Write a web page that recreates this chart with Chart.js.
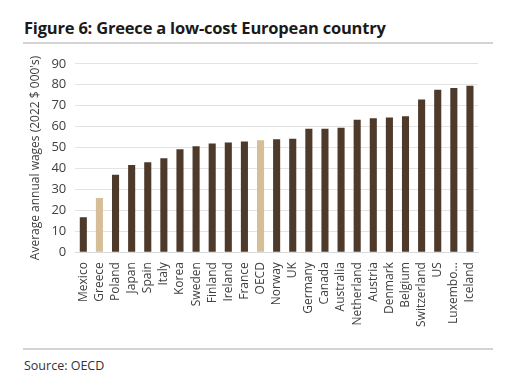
<!DOCTYPE html>
<html>
<head>
<meta charset="utf-8">
<script src="https://cdn.jsdelivr.net/npm/chart.js@4"></script>
<style>
  body { margin: 0; background: #fff; width: 516px; height: 389px; position: relative; overflow: hidden; font-family: "Open Sans", "Noto Sans", sans-serif; }
  #title { position: absolute; left: 24px; top: 16px; font-size: 16.5px; font-weight: bold; color: #1a1a1a; letter-spacing: -0.2px; }
  .rule { position: absolute; left: 23px; width: 470px; height: 2px; background: #d4d4d4; }
  #source { position: absolute; left: 24px; top: 357px; font-size: 12.5px; color: #333; }
  #wrap { position: absolute; left: 22px; top: 47px; width: 468px; height: 282px; }
</style>
</head>
<body>
<div id="title">Figure 6: Greece a low-cost European country</div>
<div class="rule" style="top:42px"></div>
<div id="wrap"><canvas id="myChart"></canvas></div>
<div class="rule" style="top:348px"></div>
<div id="source">Source: OECD</div>
<script>
// countries, sorted by wage
const countries = ["Mexico", "Greece", "Poland", "Japan", "Spain", "Italy", "Korea", "Sweden",
  "Finland", "Ireland", "France", "OECD", "Norway", "UK", "Germany", "Canada", "Australia",
  "Netherland", "Austria", "Denmark", "Belgium", "Switzerland", "US", "Luxembourg", "Iceland"];
const tickLabels = ["Mexico", "Greece", "Poland", "Japan", "Spain", "Italy", "Korea", "Sweden",
  "Finland", "Ireland", "France", "OECD", "Norway", "UK", "Germany", "Canada", "Australia",
  "Netherland", "Austria", "Denmark", "Belgium", "Switzerland", "US", "Luxembo...", "Iceland"];
const wages = [16.7, 25.9, 37.0, 41.6, 42.9, 44.9, 49.2, 50.6, 51.9, 52.4, 52.9, 53.5, 54.0, 54.2,
  59.0, 59.0, 59.5, 63.3, 64.0, 64.3, 64.9, 73.0, 77.6, 78.4, 79.5];
const yTicks = [0, 10, 20, 30, 40, 50, 60, 70, 80, 90];
const highlight = ["Greece", "OECD"];

const barColors = countries.map((c) => {
  if (highlight.includes(c)) {
    return "#d6bf98";
  }
  return "#4e3a2b";
});

const ctx = document.getElementById('myChart');

new Chart(ctx, {
  type: 'bar',
  data: {
    labels: countries,
    datasets: [{
      label: 'Average annual wages',
      data: wages,
      backgroundColor: barColors,
      barPercentage: 0.44,
      categoryPercentage: 1.0
    }]
  },
  options: {
    responsive: true,
    maintainAspectRatio: false,
    animation: false,
    layout: { padding: { top: 6, right: 12, bottom: 0, left: 3 } },
    plugins: {
      legend: { display: false },
      tooltip: { enabled: false }
    },
    scales: {
      x: {
        grid: { display: false },
        border: { color: '#d9d9d9' },
        ticks: {
          color: '#404040',
          font: { family: 'Open Sans', size: 12 },
          maxRotation: 90,
          minRotation: 90,
          autoSkip: false,
          padding: 2,
          callback: (v, i) => tickLabels[i]
        }
      },
      y: {
        min: 0,
        max: 90,
        afterBuildTicks: (axis) => { axis.ticks = yTicks.map((v) => ({ value: v })); },
        grid: { color: '#e3e3e3', drawTicks: false },
        border: { display: false },
        ticks: {
          color: '#404040',
          font: { family: 'Open Sans', size: 13 },
          padding: 9
        },
        title: {
          display: true,
          text: "Average annual wages (2022 $ 000's)",
          color: '#404040',
          font: { family: 'Open Sans', size: 12 },
          padding: { top: 3, bottom: 0 }
        }
      }
    }
  }
});
</script>
</body>
</html>
